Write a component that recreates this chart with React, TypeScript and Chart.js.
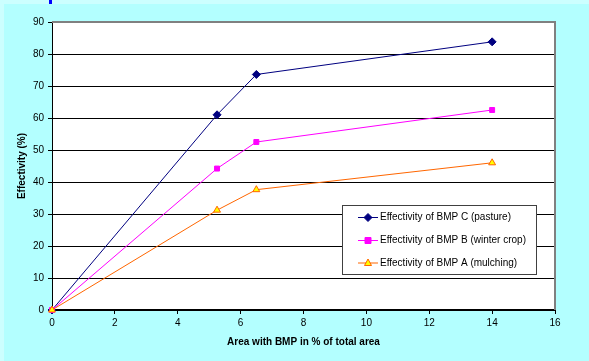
import React, { useEffect, useRef } from "react";
import { Chart, registerables } from "chart.js";

Chart.register(...registerables);

const xValues = [0, 5.25, 6.5, 14];
const bmpC = [0, 61, 73.6, 83.8];
const bmpB = [0, 44.2, 52.5, 62.5];
const bmpA = [0, 31.2, 37.6, 46];
const seriesNames = [
  "Effectivity of BMP C (pasture)",
  "Effectivity of BMP B (winter crop)",
  "Effectivity of BMP A (mulching)",
];
const xTitle = "Area with BMP in % of total area";
const yTitle = "Effectivity (%)";

const FONT = "'Liberation Sans', Arial, sans-serif";

const bgPlugin = {
  id: "bg",
  beforeDraw(chart: any) {
    const { ctx, width, height, chartArea } = chart;
    ctx.save();
    ctx.fillStyle = "#CCFFFF";
    ctx.fillRect(0, 0, width, height);
    ctx.fillStyle = "#B3FFFF";
    ctx.fillRect(4, 4, width - 4, height - 4);
    ctx.fillStyle = "#0000FF";
    ctx.fillRect(49, 0, 3, 4);
    ctx.fillStyle = "#FFFFFF";
    ctx.fillRect(chartArea.left, chartArea.top, chartArea.right - chartArea.left, chartArea.bottom - chartArea.top);
    ctx.restore();
  },
  beforeDatasetsDraw(chart: any) {
    const { ctx, chartArea } = chart;
    ctx.save();
    ctx.strokeStyle = "#808080";
    ctx.lineWidth = 2;
    ctx.beginPath();
    ctx.moveTo(chartArea.left, chartArea.top);
    ctx.lineTo(chartArea.right, chartArea.top);
    ctx.lineTo(chartArea.right, chartArea.bottom);
    ctx.stroke();
    ctx.restore();
  },
};

const legendPlugin = {
  id: "customLegend",
  afterDraw(chart: any) {
    const { ctx } = chart;
    const x0 = 342.5, y0 = 205.5, w = 194, h = 69;
    ctx.save();
    ctx.fillStyle = "#FFFFFF";
    ctx.fillRect(x0, y0, w, h);
    ctx.strokeStyle = "#404040";
    ctx.lineWidth = 1;
    ctx.strokeRect(x0, y0, w, h);
    const rows = [217.5, 240.5, 263];
    chart.data.datasets.forEach((ds: any, i: number) => {
      const y = rows[i];
      ctx.strokeStyle = ds.borderColor;
      ctx.lineWidth = 1;
      ctx.beginPath();
      ctx.moveTo(358, y);
      ctx.lineTo(378, y);
      ctx.stroke();
      ctx.fillStyle = ds.pointBackgroundColor;
      ctx.strokeStyle = ds.pointBorderColor;
      const cx = 368;
      ctx.beginPath();
      if (ds.pointStyle === "rectRot") {
        ctx.moveTo(cx, y - 4); ctx.lineTo(cx + 4, y); ctx.lineTo(cx, y + 4); ctx.lineTo(cx - 4, y); ctx.closePath();
      } else if (ds.pointStyle === "rect") {
        ctx.rect(cx - 3, y - 3, 6, 6);
      } else {
        ctx.moveTo(cx, y - 4); ctx.lineTo(cx + 3.5, y + 2.5); ctx.lineTo(cx - 3.5, y + 2.5); ctx.closePath();
      }
      ctx.fill();
      ctx.stroke();
      ctx.fillStyle = "#000000";
      ctx.font = `10px ${FONT}`;
      ctx.textBaseline = "middle";
      ctx.textAlign = "left";
      ctx.fillText(ds.label, 380, y);
    });
    ctx.restore();
  },
};

export default function App() {
  const ref = useRef<HTMLCanvasElement>(null);
  useEffect(() => {
    document.body.style.margin = "0";
    const mk = (ys: number[]) => xValues.map((x, i) => ({ x, y: ys[i] }));
    const chart = new Chart(ref.current!, {
      type: "line",
      data: {
        datasets: [
          {
            label: seriesNames[0], data: mk(bmpC), borderColor: "#000080", backgroundColor: "#000080",
            pointBackgroundColor: "#000080", pointBorderColor: "#000080", pointStyle: "rectRot",
            pointRadius: 4, borderWidth: 1, pointBorderWidth: 1, order: 2,
          },
          {
            label: seriesNames[1], data: mk(bmpB), borderColor: "#FF00FF", backgroundColor: "#FF00FF",
            pointBackgroundColor: "#FF00FF", pointBorderColor: "#FF00FF", pointStyle: "rect",
            pointRadius: 3.5, borderWidth: 1, pointBorderWidth: 1, order: 1,
          },
          {
            label: seriesNames[2], data: mk(bmpA), borderColor: "#FF6600", backgroundColor: "#FFFF00",
            pointBackgroundColor: "#FFFF00", pointBorderColor: "#FF6600", pointStyle: "triangle",
            pointRadius: 4, borderWidth: 1, pointBorderWidth: 1, order: 0,
          },
        ] as any,
      },
      options: {
        responsive: false,
        animation: false,
        clip: false as any,
        layout: { padding: { left: 12, top: 22, right: 34, bottom: 9 } },
        plugins: { legend: { display: false }, tooltip: { enabled: false } },
        scales: {
          x: {
            type: "linear", min: 0, max: 16,
            ticks: { stepSize: 2, color: "#000", font: { family: FONT, size: 10 }, padding: 3, maxRotation: 0 },
            grid: { drawOnChartArea: false, drawTicks: true, tickLength: 4, color: "#000", tickColor: "#000" },
            border: { color: "#000", width: 2 },
            title: { display: true, text: xTitle, color: "#000", font: { family: FONT, size: 10, weight: "bold" }, padding: { top: 4, bottom: 4 } },
            afterFit: (s: any) => { s.height = 42; },
          },
          y: {
            type: "linear", min: 0, max: 90,
            ticks: { stepSize: 10, color: "#000", font: { family: FONT, size: 10 }, padding: 4 },
            grid: {
              tickLength: 4, lineWidth: 1,
              color: (c: any) => (c.tick && c.tick.value === 90 ? "rgba(0,0,0,0)" : "#000"),
              tickColor: "#000",
            },
            border: { color: "#000", width: 1 },
            title: { display: true, text: yTitle, color: "#000", font: { family: FONT, size: 10, weight: "bold" }, padding: { top: 4, bottom: 4 } },
            afterFit: (s: any) => { s.width = 40; },
          },
        },
      },
      plugins: [bgPlugin, legendPlugin],
    });
    return () => chart.destroy();
  }, []);
  return <canvas ref={ref} width={589} height={361} style={{ display: "block" }} />;
}
